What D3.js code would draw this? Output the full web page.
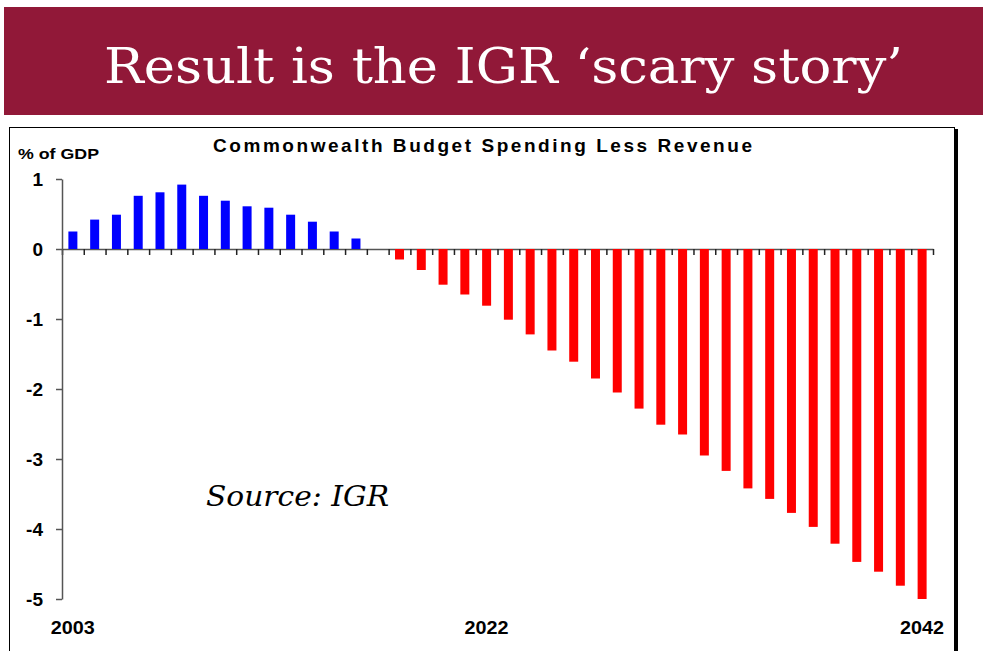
<!DOCTYPE html>
<html>
<head>
<meta charset="utf-8">
<script src="https://d3js.org/d3.v7.min.js"></script>
<style>
body { margin: 0; background: #fff; }
svg { display: block; }
</style>
</head>
<body>
<div id="chart"></div>
<script>
// years along the axis
var years = ["2003","2004","2005","2006","2007","2008","2009","2010","2011","2012",
             "2013","2014","2015","2016","2017","2018","2019","2020","2021","2022",
             "2023","2024","2025","2026","2027","2028","2029","2030","2031","2032",
             "2033","2034","2035","2036","2037","2038","2039","2040","2041","2042"];
// spending less revenue, % of GDP
var balance = [0.25, 0.42, 0.49, 0.76, 0.81, 0.92, 0.76, 0.69, 0.61, 0.59,
               0.49, 0.39, 0.25, 0.15, 0, -0.15, -0.30, -0.51, -0.65, -0.81,
               -1.01, -1.22, -1.45, -1.61, -1.85, -2.05, -2.28, -2.51, -2.65, -2.95,
               -3.17, -3.42, -3.57, -3.77, -3.97, -4.21, -4.47, -4.61, -4.81, -5.00];
var yTicks = [1, 0, -1, -2, -3, -4, -5];
var yearLabels = ["2003", "2022", "2042"];

var width = 985, height = 651;
var plotLeft = 62, plotRight = 933, plotTop = 179, plotBottom = 599;

var svg = d3.select("#chart").append("svg")
    .attr("width", width)
    .attr("height", height);

// slide heading
svg.append("rect")
    .attr("x", 4).attr("y", 7)
    .attr("width", 979).attr("height", 108)
    .attr("fill", "#911838");
svg.append("text")
    .attr("x", 104).attr("y", 83)
    .attr("textLength", 799)
    .attr("lengthAdjust", "spacingAndGlyphs")
    .style("font-family", "'DejaVu Serif', serif")
    .style("font-stretch", "condensed")
    .style("font-size", "48px")
    .attr("fill", "#fff")
    .text("Result is the IGR \u2018scary story\u2019");

// chart frame with its shadow on the right
svg.append("rect")
    .attr("x", 9.5).attr("y", 127.5)
    .attr("width", 945).attr("height", 560)
    .attr("fill", "#fff")
    .attr("stroke", "#000")
    .attr("stroke-width", 1);
svg.append("rect")
    .attr("x", 955).attr("y", 129)
    .attr("width", 3).attr("height", 560)
    .attr("fill", "#000");

var x = d3.scaleBand()
    .domain(years)
    .range([plotLeft, plotRight])
    .paddingInner(0.587)
    .paddingOuter(0.2935);

var y = d3.scaleLinear()
    .domain([-5, 1])
    .range([plotBottom, plotTop]);

// boundaries between years for the little ticks under the zero line
var xb = d3.scaleLinear()
    .domain([0, years.length])
    .range([plotLeft, plotRight]);

svg.append("g")
    .attr("transform", "translate(0," + y(0) + ")")
    .call(d3.axisBottom(xb)
        .tickValues(d3.range(years.length + 1))
        .tickSize(6)
        .tickSizeOuter(0)
        .tickFormat(""))
    .call(function(g) {
        g.select(".domain").attr("stroke", "#555").attr("stroke-width", 1.5);
        g.selectAll(".tick line").attr("stroke", "#222").attr("stroke-width", 1.5);
    });

svg.append("g")
    .selectAll("rect")
    .data(balance)
    .enter()
    .append("rect")
    .attr("x", function(d, i) { return x(years[i]); })
    .attr("width", x.bandwidth())
    .attr("y", function(d) { return y(Math.max(0, d)); })
    .attr("height", function(d) { return Math.abs(y(d) - y(0)); })
    .attr("fill", function(d) { return d >= 0 ? "#0000ff" : "#ff0000"; });

svg.append("g")
    .attr("transform", "translate(" + plotLeft + ",0)")
    .call(d3.axisLeft(y)
        .tickValues(yTicks)
        .tickSize(6)
        .tickSizeOuter(0)
        .tickPadding(13)
        .tickFormat(function(d) { return String(d); }))
    .call(function(g) {
        g.select(".domain").attr("stroke", "#555").attr("stroke-width", 1.5);
        g.selectAll(".tick line").attr("stroke", "#555").attr("stroke-width", 1.5);
        g.selectAll(".tick text")
            .attr("fill", "#000")
            .style("font-family", "'Liberation Sans', Arial, sans-serif")
            .style("font-weight", "bold")
            .style("font-size", "19px");
    });

svg.append("g")
    .selectAll("text")
    .data(yearLabels)
    .enter()
    .append("text")
    .attr("x", function(d) { return x(d) + x.bandwidth() / 2; })
    .attr("y", 634)
    .attr("text-anchor", "middle")
    .attr("textLength", 44)
    .attr("lengthAdjust", "spacingAndGlyphs")
    .style("font-family", "'Liberation Sans', Arial, sans-serif")
    .style("font-weight", "bold")
    .style("font-size", "19px")
    .text(function(d) { return d; });

svg.append("text")
    .attr("x", 482.5).attr("y", 152)
    .attr("text-anchor", "middle")
    .attr("textLength", 539)
    .attr("lengthAdjust", "spacing")
    .style("font-family", "'Liberation Sans', Arial, sans-serif")
    .style("font-weight", "bold")
    .style("font-size", "19px")
    .text("Commonwealth Budget Spending Less Revenue");

svg.append("text")
    .attr("x", 18).attr("y", 159)
    .attr("textLength", 81)
    .attr("lengthAdjust", "spacingAndGlyphs")
    .style("font-family", "'Liberation Sans', Arial, sans-serif")
    .style("font-weight", "bold")
    .style("font-size", "15px")
    .text("% of GDP");

svg.append("text")
    .attr("x", 206).attr("y", 506)
    .attr("textLength", 183)
    .attr("lengthAdjust", "spacingAndGlyphs")
    .style("font-family", "'DejaVu Serif', serif")
    .style("font-style", "italic")
    .style("font-size", "27px")
    .text("Source: IGR");
</script>
</body>
</html>
